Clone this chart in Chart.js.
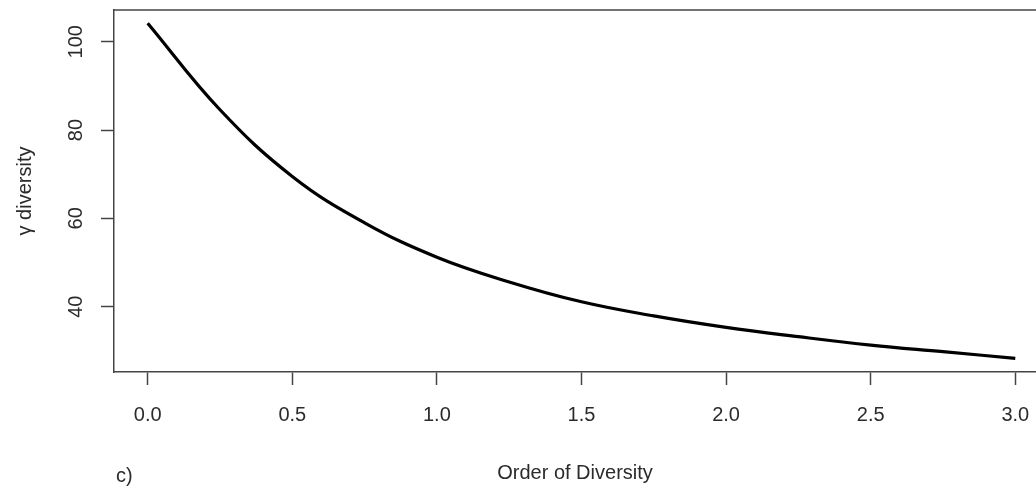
<!DOCTYPE html>
<html>
<head>
<meta charset="utf-8">
<title>Gamma diversity profile</title>
<script src="https://cdn.jsdelivr.net/npm/chart.js@4/dist/chart.umd.min.js"></script>
<style>
    html, body { margin: 0; padding: 0; background: #fff; overflow: hidden; }
    #wrap { width: 1036px; height: 491px; position: relative; }
</style>
</head>
<body>
<div id="wrap"><canvas id="gammaChart"></canvas></div>
<script>
// values
const orderQ = [0, 0.25, 0.5, 0.75, 1.0, 1.25, 1.5, 1.75, 2.0, 2.25, 2.5, 2.75, 3.0];
const gammaDiv = [104.2, 84.6, 69.5, 59.0, 51.2, 45.6, 41.1, 37.9, 35.3, 33.2, 31.3, 29.8, 28.3];
const xTicks = [0, 0.5, 1.0, 1.5, 2.0, 2.5, 3.0];
const yTicks = [40, 60, 80, 100];

const textColor = '#2b2b2b';
const axisColor = '#444';
const font = { family: "'Liberation Sans', Arial, sans-serif", size: 20 };

// y tick labels are vertical in the original, chart.js won't rotate them on a y axis
const extras = {
    id: 'extras',
    afterDraw(chart) {
        const ctx = chart.ctx;
        const area = chart.chartArea;
        const y = chart.scales.y;
        ctx.save();
        // top border of the box
        ctx.strokeStyle = axisColor;
        ctx.lineWidth = 1.5;
        ctx.beginPath();
        ctx.moveTo(area.left, area.top);
        ctx.lineTo(area.right, area.top);
        ctx.stroke();

        ctx.fillStyle = textColor;
        ctx.font = font.size + 'px ' + font.family;
        ctx.textAlign = 'center';
        ctx.textBaseline = 'middle';
        yTicks.forEach(v => {
            ctx.save();
            ctx.translate(76, y.getPixelForValue(v));
            ctx.rotate(-Math.PI / 2);
            ctx.fillText(String(v), 0, 0);
            ctx.restore();
        });

        ctx.textAlign = 'left';
        ctx.fillText('c)', 116, 476);
        ctx.restore();
    }
};

const chart = new Chart(document.getElementById('gammaChart'), {
    type: 'line',
    data: {
        datasets: [{
            data: orderQ.map((q, i) => ({ x: q, y: gammaDiv[i] })),
            borderColor: '#000',
            borderWidth: 3.2,
            pointRadius: 0,
            fill: false,
            tension: 0.4
        }]
    },
    options: {
        responsive: true,
        maintainAspectRatio: false,
        animation: false,
        layout: { padding: { top: 10, left: 0, right: 0, bottom: 0 } },
        plugins: {
            legend: { display: false },
            tooltip: { enabled: false }
        },
        scales: {
            x: {
                type: 'linear',
                min: -0.1165,
                max: 3.0716,
                afterBuildTicks: (s) => { s.ticks = xTicks.map(v => ({ value: v })); },
                afterFit: (s) => {
                    s.height = 119;
                    // the box runs off the right edge in the original
                    s.paddingRight = 0;
                    s.paddingLeft = 0;
                },
                ticks: {
                    callback: (v) => Number(v).toFixed(1),
                    font: font,
                    color: textColor,
                    padding: 18,
                    maxRotation: 0,
                    autoSkip: false
                },
                grid: {
                    drawOnChartArea: false,
                    drawTicks: true,
                    tickLength: 13,
                    tickWidth: 1.5,
                    tickColor: axisColor
                },
                border: { display: true, color: axisColor, width: 1.5 },
                title: {
                    display: true,
                    text: 'Order of Diversity',
                    font: font,
                    color: textColor,
                    padding: { top: 0, bottom: 6 }
                }
            },
            y: {
                type: 'linear',
                min: 25.2,
                max: 107.2,
                afterBuildTicks: (s) => { s.ticks = yTicks.map(v => ({ value: v })); },
                afterFit: (s) => { s.width = 114; },
                ticks: { display: false },
                grid: {
                    drawOnChartArea: false,
                    drawTicks: true,
                    tickLength: 13,
                    tickWidth: 1.5,
                    tickColor: axisColor
                },
                border: { display: true, color: axisColor, width: 1.5 },
                title: {
                    display: true,
                    text: 'γ diversity',
                    font: font,
                    color: textColor,
                    padding: { top: 13, bottom: 0 }
                }
            }
        }
    },
    plugins: [extras]
});
</script>
</body>
</html>
